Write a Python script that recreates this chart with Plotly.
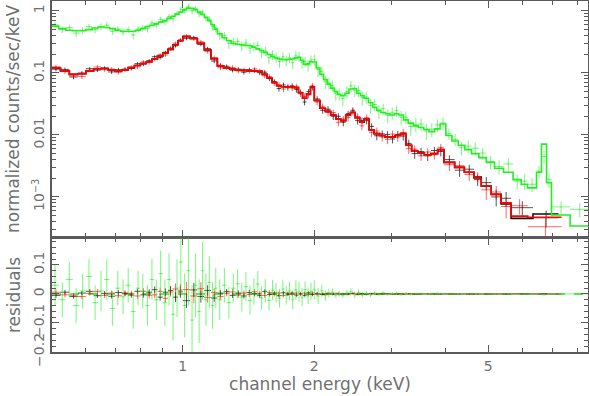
import math
import plotly.graph_objects as go

# --- pn spectrum (green): bin edges in keV, rate and model in counts/s/keV ---
pn_edges = [
    0.50, 0.52, 0.54, 0.56, 0.58, 0.60, 0.62, 0.64, 0.66, 0.68, 0.70, 0.72,
    0.74, 0.76, 0.78, 0.80, 0.82, 0.84, 0.86, 0.88, 0.90, 0.92, 0.94, 0.96,
    0.98, 1.00, 1.02, 1.04, 1.06, 1.08, 1.10, 1.12, 1.14, 1.16, 1.18, 1.20,
    1.23, 1.26, 1.29, 1.32, 1.35, 1.38, 1.41, 1.44, 1.47, 1.50, 1.53, 1.56,
    1.59, 1.62, 1.65, 1.68, 1.71, 1.74, 1.77, 1.80, 1.83, 1.86, 1.89, 1.92,
    1.95, 1.98,
    2.02, 2.06, 2.10, 2.14, 2.18, 2.22, 2.26, 2.30,
    2.35, 2.40, 2.45, 2.50, 2.55, 2.60,
    2.66, 2.72, 2.78, 2.84,
    2.91, 2.98, 3.05, 3.12,
    3.20, 3.28, 3.37, 3.46, 3.56, 3.66, 3.77, 3.88, 4.00,
    4.13, 4.27, 4.42, 4.58, 4.76, 4.95, 5.17, 5.42, 5.70, 5.95, 6.15, 6.45,
    6.62, 6.80, 6.98, 7.70, 8.50,
]
pn_rate = [
    0.60, 0.50, 0.54, 0.44, 0.49, 0.56, 0.50, 0.56, 0.59, 0.47,
    0.51, 0.46, 0.50, 0.41, 0.51, 0.53, 0.52, 0.64, 0.60, 0.73,
    0.67, 0.81, 0.75, 0.91, 1.07, 1.01, 1.19, 1.01, 1.08, 0.90,
    0.96, 0.77, 0.74, 0.56, 0.53,
    0.41, 0.40, 0.30, 0.32, 0.325, 0.274, 0.305, 0.253, 0.268, 0.279,
    0.216, 0.226, 0.176, 0.198, 0.179, 0.153, 0.182, 0.160, 0.176, 0.148,
    0.189, 0.185, 0.149, 0.153, 0.133, 0.161,
    0.164, 0.113, 0.106, 0.072, 0.069, 0.063, 0.0465, 0.046,
    0.039, 0.050, 0.062, 0.053, 0.052, 0.040,
    0.041, 0.030, 0.031, 0.024,
    0.0265, 0.0207, 0.0227, 0.0246,
    0.0193, 0.0193, 0.0136, 0.0148, 0.0150, 0.0116, 0.0123, 0.0145, 0.0156,
    0.0105, 0.0085, 0.0062, 0.0066, 0.0061, 0.0051, 0.0037, 0.0031, 0.0034,
    0.0018, 0.0018, 0.0016, 0.0026, 0.0045, 0.0019, 0.00069, 0.00063,
]
pn_err = [
    0.07, 0.06, 0.06, 0.06, 0.06, 0.06, 0.06, 0.07, 0.07, 0.06,
    0.06, 0.06, 0.06, 0.06, 0.06, 0.06, 0.07, 0.07, 0.07, 0.08,
    0.08, 0.09, 0.09, 0.10, 0.11, 0.11, 0.12, 0.12, 0.11, 0.11,
    0.10, 0.09, 0.09, 0.08, 0.07,
    0.07, 0.06, 0.055, 0.05, 0.05, 0.05, 0.05, 0.05, 0.045, 0.045,
    0.04, 0.04, 0.035, 0.035, 0.033, 0.032, 0.032, 0.032, 0.032, 0.032,
    0.033, 0.034, 0.031, 0.028, 0.028, 0.03,
    0.033, 0.027, 0.021, 0.017, 0.015, 0.013, 0.011, 0.010,
    0.010, 0.011, 0.012, 0.012, 0.011, 0.010,
    0.009, 0.008, 0.007, 0.006,
    0.0055, 0.0052, 0.005, 0.005,
    0.005, 0.0045, 0.004, 0.0037, 0.0035, 0.0033, 0.0031, 0.0033, 0.0036,
    0.0022, 0.0019, 0.0015, 0.0015, 0.0014, 0.0011, 0.0009, 0.0008, 0.0008,
    0.0005, 0.0005, 0.0004, 0.0006, 0.0011, 0.0005, 0.00016, 0.00016,
]
pn_model = [
    0.57, 0.52, 0.49, 0.48, 0.48, 0.50, 0.53, 0.55, 0.54, 0.52,
    0.49, 0.47, 0.47, 0.47, 0.49, 0.52, 0.56, 0.59, 0.62, 0.66,
    0.70, 0.76, 0.82, 0.89, 0.96, 1.05, 1.11, 1.10, 1.05, 0.96,
    0.88, 0.79, 0.70, 0.60, 0.51,
    0.43, 0.37, 0.33, 0.30, 0.29, 0.285, 0.28, 0.275, 0.26, 0.245,
    0.23, 0.215, 0.198, 0.185, 0.175, 0.168, 0.165, 0.165, 0.166, 0.168,
    0.175, 0.178, 0.16, 0.138, 0.14, 0.152,
    0.15, 0.12, 0.095, 0.078, 0.066, 0.057, 0.050, 0.045,
    0.043, 0.047, 0.055, 0.056, 0.047, 0.043,
    0.039, 0.033, 0.028, 0.025,
    0.023, 0.022, 0.021, 0.022,
    0.021, 0.0175, 0.0155, 0.0140, 0.0132, 0.0122, 0.0113, 0.0125, 0.0150,
    0.0098, 0.0080, 0.0068, 0.0058, 0.0050, 0.0043, 0.0036, 0.0029, 0.0025,
    0.0019, 0.0016, 0.0014, 0.0025, 0.0071, 0.0017, 0.00051, 0.00034,
]

# --- MOS spectra (black, red) ---
mos_edges = [
    0.500, 0.525, 0.550, 0.575, 0.600, 0.625, 0.650, 0.675, 0.700, 0.725,
    0.750, 0.775, 0.800, 0.825, 0.850, 0.875, 0.900, 0.925, 0.950, 0.975,
    1.000,
    1.04, 1.08, 1.12, 1.16, 1.20, 1.24, 1.28, 1.32, 1.36, 1.40, 1.44, 1.48,
    1.52, 1.56, 1.60, 1.64, 1.68, 1.72, 1.76, 1.80, 1.84, 1.88, 1.92, 1.96,
    2.00,
    2.06, 2.12, 2.18, 2.24, 2.30, 2.36, 2.42, 2.48, 2.54, 2.60, 2.67, 2.74,
    2.82, 2.90, 2.98, 3.06, 3.15, 3.24,
    3.34, 3.45, 3.57, 3.70, 3.83, 3.96,
]
mos1_edges_tail = [4.19, 4.41, 4.64, 4.82, 5.08, 5.35, 5.64, 6.33, 7.24]
mos2_edges_tail = [4.19, 4.41, 4.64, 4.82, 5.08, 5.35, 5.64, 6.16, 7.36]

mos1_rate = [
    0.115, 0.114, 0.086, 0.100, 0.117, 0.111, 0.120, 0.104, 0.113, 0.113,
    0.118, 0.141, 0.139, 0.158, 0.183, 0.177, 0.216, 0.252, 0.274, 0.337,
    0.362, 0.374, 0.291, 0.247, 0.156, 0.133, 0.128, 0.111, 0.115, 0.103,
    0.113, 0.109, 0.101, 0.103, 0.081, 0.073, 0.056, 0.064, 0.058, 0.062,
    0.054, 0.049, 0.034, 0.050, 0.058,
    0.038, 0.025, 0.026, 0.020, 0.020, 0.016, 0.022, 0.025, 0.017, 0.017,
    0.017, 0.0137, 0.0097, 0.0104, 0.0102, 0.0086, 0.0102, 0.0096,
    0.0073, 0.0050, 0.0054, 0.0046, 0.0056, 0.0054,
    0.0040, 0.0027, 0.0028, 0.0019, 0.0017, 0.0010, 0.00095, 0.00067, 0.00046,
]
mos1_err = [
    0.009, 0.008, 0.007, 0.007, 0.008, 0.008, 0.008, 0.008, 0.008, 0.008,
    0.009, 0.009, 0.010, 0.010, 0.011, 0.012, 0.013, 0.015, 0.017, 0.020,
    0.025, 0.024, 0.021, 0.018, 0.013, 0.010, 0.009, 0.009, 0.009, 0.009,
    0.009, 0.009, 0.009, 0.008, 0.007, 0.006, 0.006, 0.006, 0.006, 0.006,
    0.006, 0.005, 0.004, 0.005, 0.006,
    0.004, 0.003, 0.003, 0.0026, 0.0023, 0.0022, 0.0025, 0.0027, 0.0023, 0.0021,
    0.0022, 0.0017, 0.0015, 0.0014, 0.0014, 0.0013, 0.0014, 0.0015,
    0.0011, 0.0009, 0.0008, 0.0008, 0.0008, 0.0009,
    0.0007, 0.0006, 0.0005, 0.0004, 0.0004, 0.0003, 0.00025, 0.00018, 0.00014,
]
mos1_model = [
    0.120, 0.108, 0.095, 0.097, 0.108, 0.117, 0.118, 0.112, 0.108, 0.112,
    0.122, 0.132, 0.142, 0.152, 0.168, 0.188, 0.210, 0.240, 0.285, 0.330,
    0.385, 0.360, 0.300, 0.235, 0.170, 0.130, 0.120, 0.116, 0.112, 0.110,
    0.108, 0.108, 0.106, 0.095, 0.083, 0.070, 0.062, 0.060, 0.059, 0.059,
    0.058, 0.048, 0.039, 0.046, 0.060,
    0.036, 0.027, 0.024, 0.021, 0.018, 0.017, 0.021, 0.023, 0.019, 0.016,
    0.018, 0.012, 0.0105, 0.0098, 0.0092, 0.0092, 0.0098, 0.0105,
    0.0068, 0.0055, 0.0051, 0.0048, 0.0050, 0.0058,
    0.0036, 0.0030, 0.0025, 0.0021, 0.0015, 0.0011, 0.00077, 0.00045, 0.00053,
]

mos2_rate = [
    0.126, 0.105, 0.089, 0.088, 0.110, 0.125, 0.113, 0.115, 0.102, 0.116,
    0.124, 0.125, 0.151, 0.147, 0.165, 0.197, 0.195, 0.247, 0.302, 0.343,
    0.400, 0.353, 0.318, 0.223, 0.175, 0.121, 0.122, 0.123, 0.108, 0.113,
    0.106, 0.116, 0.108, 0.090, 0.088, 0.068, 0.065, 0.055, 0.061, 0.057,
    0.061, 0.046, 0.042, 0.044, 0.063,
    0.034, 0.029, 0.023, 0.023, 0.016, 0.018, 0.019, 0.024, 0.020, 0.014,
    0.019, 0.011, 0.0116, 0.0093, 0.0085, 0.0103, 0.0092, 0.0110,
    0.0060, 0.0059, 0.0046, 0.0053, 0.0048, 0.0063,
    0.0033, 0.0032, 0.0023, 0.0021, 0.0013, 0.0012, 0.00070, 0.00072, 0.00033,
]
mos2_err = [
    0.010, 0.009, 0.008, 0.008, 0.008, 0.009, 0.009, 0.009, 0.008, 0.009,
    0.009, 0.010, 0.011, 0.011, 0.012, 0.013, 0.014, 0.016, 0.019, 0.021,
    0.026, 0.025, 0.022, 0.018, 0.014, 0.010, 0.010, 0.010, 0.009, 0.009,
    0.009, 0.009, 0.009, 0.008, 0.007, 0.007, 0.006, 0.006, 0.006, 0.006,
    0.006, 0.005, 0.005, 0.005, 0.006,
    0.004, 0.003, 0.003, 0.0027, 0.0023, 0.0022, 0.0025, 0.0027, 0.0024, 0.0021,
    0.0023, 0.0017, 0.0016, 0.0015, 0.0014, 0.0014, 0.0014, 0.0015,
    0.0011, 0.0009, 0.0008, 0.0008, 0.0008, 0.0009,
    0.0007, 0.0006, 0.0005, 0.0004, 0.0004, 0.0003, 0.00025, 0.00020, 0.00012,
]
mos2_model = [
    0.120, 0.108, 0.095, 0.097, 0.108, 0.117, 0.118, 0.112, 0.108, 0.112,
    0.122, 0.132, 0.142, 0.152, 0.168, 0.188, 0.210, 0.240, 0.285, 0.330,
    0.385, 0.360, 0.300, 0.235, 0.170, 0.130, 0.120, 0.116, 0.112, 0.110,
    0.108, 0.108, 0.106, 0.095, 0.083, 0.070, 0.062, 0.060, 0.059, 0.059,
    0.058, 0.048, 0.039, 0.046, 0.060,
    0.036, 0.027, 0.024, 0.021, 0.018, 0.017, 0.021, 0.023, 0.019, 0.016,
    0.018, 0.012, 0.0105, 0.0098, 0.0092, 0.0092, 0.0098, 0.0105,
    0.0068, 0.0055, 0.0051, 0.0048, 0.0050, 0.0058,
    0.0036, 0.0030, 0.0025, 0.0020, 0.0015, 0.0011, 0.00080, 0.00049, 0.00047,
]

x_ticks = [1, 2, 5]
y_ticks = [1e-3, 0.01, 0.1, 1]
y_ticktext = ['10<sup>\u22123</sup>', '0.01', '0.1', '1']
res_ticks = [-0.2, -0.1, 0, 0.1]

FRAME = '#5a5a5a'
TEXT = '#707070'


def add_spectrum(fig, edges, rate, err, model, data_color, line_color):
    lo, hi = edges[:-1], edges[1:]
    mid = [(a + b) / 2 for a, b in zip(lo, hi)]
    ex = dict(type='data', symmetric=False, array=[b - m for b, m in zip(hi, mid)],
              arrayminus=[m - a for m, a in zip(mid, lo)],
              color=data_color, thickness=1, width=0)
    ey = dict(type='data', array=err, color=data_color, thickness=1, width=0)
    # data with error bars (top)
    fig.add_trace(go.Scatter(x=mid, y=rate, mode='markers',
                             marker=dict(size=1, color=data_color),
                             error_x=ex, error_y=ey,
                             xaxis='x', yaxis='y', showlegend=False, hoverinfo='skip'))
    # folded model as step line
    fig.add_trace(go.Scatter(x=edges, y=model + [model[-1]], mode='lines',
                             line=dict(color=line_color, width=1.6, shape='hv'),
                             xaxis='x', yaxis='y', showlegend=False, hoverinfo='skip'))
    # residuals = data - model
    res = [r - m for r, m in zip(rate, model)]
    fig.add_trace(go.Scatter(x=mid, y=res, mode='markers',
                             marker=dict(size=1, color=data_color),
                             error_x=ex, error_y=ey,
                             xaxis='x2', yaxis='y2', showlegend=False, hoverinfo='skip'))


fig = go.Figure()
add_spectrum(fig, mos_edges + mos1_edges_tail, mos1_rate, mos1_err, mos1_model,
             'rgba(30,30,30,0.75)', '#111111')
add_spectrum(fig, mos_edges + mos2_edges_tail, mos2_rate, mos2_err, mos2_model,
             'rgba(255,0,0,0.6)', '#ff0000')
add_spectrum(fig, pn_edges, pn_rate, pn_err, pn_model,
             'rgba(30,240,30,0.6)', '#22ee22')

fig.add_shape(type='line', xref='paper', yref='y2', x0=0, x1=1, y0=0, y1=0,
              line=dict(color='#33dd33', width=1.5, dash='dash'), layer='below')

minor_log = [k * 10 ** p for p in range(-4, 1) for k in range(2, 10)]

axis_common = dict(showline=True, linecolor=FRAME, linewidth=2, mirror='allticks',
                   ticks='inside', ticklen=7, tickwidth=1, tickcolor=FRAME,
                   showgrid=False, zeroline=False, automargin=False,
                   tickfont=dict(size=14, color=TEXT))

fig.update_layout(
    width=589, height=396,
    margin=dict(l=52, r=1, t=1, b=44),
    paper_bgcolor='white', plot_bgcolor='white',
    font=dict(family='DejaVu Sans', size=14, color=TEXT),
    xaxis=dict(type='log', range=[math.log10(0.502), math.log10(8.46)], anchor='y',
               tickvals=x_ticks, showticklabels=False,
               minor=dict(ticks='inside', ticklen=4, tickcolor=FRAME,
                          tickvals=[0.6, 0.7, 0.8, 0.9, 3, 4, 6, 7, 8]),
               **axis_common),
    xaxis2=dict(type='log', range=[math.log10(0.502), math.log10(8.46)], anchor='y2',
                matches='x', tickvals=x_ticks, ticktext=[str(v) for v in x_ticks],
                minor=dict(ticks='inside', ticklen=4, tickcolor=FRAME,
                           tickvals=[0.6, 0.7, 0.8, 0.9, 3, 4, 6, 7, 8]),
                title=dict(text='channel energy (keV)', standoff=2),
                **axis_common),
    yaxis=dict(type='log', domain=[0.328, 1], range=[-3.645, 0.161], anchor='x',
               tickvals=y_ticks, ticktext=y_ticktext, tickangle=-90,
               minor=dict(ticks='inside', ticklen=4, tickcolor=FRAME, tickvals=minor_log),
               title=dict(text='normalized counts/sec/keV', standoff=6),
               **axis_common),
    yaxis2=dict(domain=[0, 0.325], range=[-0.2, 0.193], anchor='x2',
                tickvals=res_ticks, ticktext=['\u22120.2', '\u22120.1', '0', '0.1'],
                tickangle=-90,
                minor=dict(ticks='inside', ticklen=4, tickcolor=FRAME, dtick=0.02, tick0=0),
                title=dict(text='residuals', standoff=6),
                **axis_common),
)

# the page's default body margin would shift the figure by 8px
fig.write_html("out.html", config={'displayModeBar': False},
               post_script="document.body.style.margin='0';")
